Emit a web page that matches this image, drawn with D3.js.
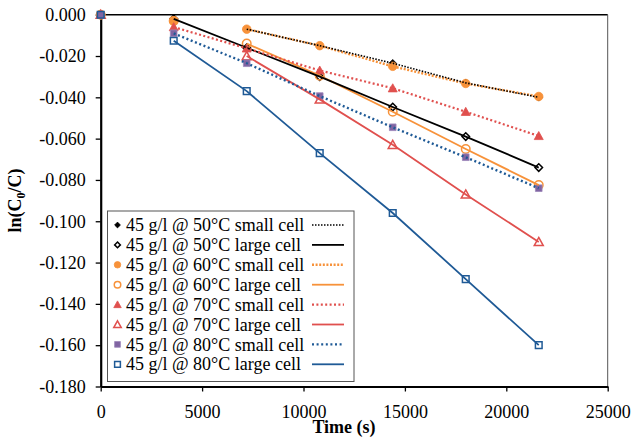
<!DOCTYPE html>
<html>
<head>
<meta charset="utf-8">
<script src="https://cdn.jsdelivr.net/npm/d3@7"></script>
<style>
  html, body { margin: 0; padding: 0; background: #fff; }
  svg { display: block; }
  svg text { font-family: "Times New Roman", "Liberation Serif", "DejaVu Serif", serif !important; fill: #000; }
</style>
</head>
<body>
<svg id="chart" width="631" height="441"></svg>
<script>
// Sampling times (s)
const times = [0, 3600, 7200, 10800, 14400, 18000, 21600];

// ln(C0/C) for each condition (null = no reading)
const small50 = [0, -0.002, -0.007, -0.015, -0.0235, -0.033, -0.040];
const large50 = [0, -0.002, -0.016, -0.030, -0.0447, -0.059, -0.074];
const small60 = [0, -0.003, -0.007, -0.015, -0.025, -0.0333, -0.0396];
const large60 = [0, -0.003, -0.014, -0.0295, -0.047, -0.065, -0.0825];
const small70 = [0, -0.006, -0.0163, -0.027, -0.0356, -0.047, -0.0587];
const large70 = [0, null, -0.020, -0.041, -0.063, -0.087, -0.110];
const small80 = [0, -0.009, -0.0235, -0.0394, -0.0545, -0.069, -0.084];
const large80 = [0, -0.0126, -0.037, -0.067, -0.096, -0.128, -0.160];

const seriesNames = [
  "45 g/l @ 50°C small cell", "45 g/l @ 50°C large cell",
  "45 g/l @ 60°C small cell", "45 g/l @ 60°C large cell",
  "45 g/l @ 70°C small cell", "45 g/l @ 70°C large cell",
  "45 g/l @ 80°C small cell", "45 g/l @ 80°C large cell"
];
const seriesValues = [small50, large50, small60, large60, small70, large70, small80, large80];

// index of the first time point each fitted line runs from
const lineStart = [2, 1, 2, 2, 1, 2, 1, 1];

const xTicks = [0, 5000, 10000, 15000, 20000, 25000];
const yTicks = [0, -0.02, -0.04, -0.06, -0.08, -0.10, -0.12, -0.14, -0.16, -0.18];

const FONT = "'Times New Roman', 'Liberation Serif', 'DejaVu Serif', serif";

// drawing styles per series
const styles = [
  { marker: "diamond", color: "#000000", fill: true,  dash: "1.5,1.5", width: 1.6, lc: "#000000" },
  { marker: "diamond", color: "#000000", fill: false, dash: null,      width: 1.8, lc: "#000000" },
  { marker: "circle",  color: "#F7923A", fill: true,  dash: "2,1.6",   width: 2.4, lc: "#F7923A" },
  { marker: "circle",  color: "#F7923A", fill: false, dash: null,      width: 1.8, lc: "#F7923A" },
  { marker: "triangle",color: "#E0504E", fill: true,  dash: "2,2.4",   width: 2.2, lc: "#E0504E" },
  { marker: "triangle",color: "#E0504E", fill: false, dash: null,      width: 1.8, lc: "#E0504E" },
  { marker: "square",  color: "#8064A2", fill: true,  dash: "2,2.6",   width: 2.4, lc: "#1F5A96" },
  { marker: "square",  color: "#1F5A96", fill: false, dash: null,      width: 1.8, lc: "#1F5A96" }
];

const svg = d3.select("#chart");
const x = d3.scaleLinear().domain([0, 25000]).range([100.7, 607.7]);
const y = d3.scaleLinear().domain([-0.18, 0]).range([386.5, 14.7]);

const fmtY = d3.formatLocale({ decimal: ".", thousands: ",", grouping: [3], currency: ["", ""], minus: "-" }).format(".3f");

// plot frame (top and right)
svg.append("line").attr("x1", x(0)).attr("x2", x(25000)).attr("y1", y(0)).attr("y2", y(0))
  .attr("stroke", "#000").attr("stroke-width", 1.4);
svg.append("line").attr("x1", x(25000)).attr("x2", x(25000)).attr("y1", y(0)).attr("y2", y(-0.18))
  .attr("stroke", "#555").attr("stroke-width", 1);

// axes
const xAxis = d3.axisBottom(x).tickValues(xTicks).tickFormat(d3.format("d")).tickSize(5).tickPadding(14).tickSizeOuter(0);
const yAxis = d3.axisLeft(y).tickValues(yTicks).tickFormat(fmtY).tickSize(5).tickPadding(10).tickSizeOuter(0);

const gx = svg.append("g").attr("transform", `translate(0,${y(-0.18)})`).call(xAxis);
const gy = svg.append("g").attr("transform", `translate(${x(0)},0)`).call(yAxis);
[gx, gy].forEach(g => {
  g.attr("font-family", FONT).attr("font-size", 18);
  g.select(".domain").attr("stroke", "#000").attr("stroke-width", 2.2);
  g.selectAll(".tick line").attr("stroke", "#000").attr("stroke-width", 1.3);
  g.selectAll(".tick text").attr("font-family", FONT).attr("font-size", 18).attr("fill", "#000");
});

// marker shapes
function markerPath(type, s) {
  if (type === "diamond") return d3.symbol(d3.symbolDiamond2, s * s * 0.5)();
  if (type === "circle") return d3.symbol(d3.symbolCircle, Math.PI * (s / 2) * (s / 2))();
  if (type === "triangle") {
    const h = s * 0.9, w = s;
    return `M0,${-h * 0.55}L${w / 2},${h * 0.45}L${-w / 2},${h * 0.45}Z`;
  }
  return d3.symbol(d3.symbolSquare2, s * s)();
}

function drawMarker(g, st, cx, cy, s) {
  g.append("path")
    .attr("d", markerPath(st.marker, s))
    .attr("transform", `translate(${cx},${cy})`)
    .attr("fill", st.fill ? st.color : "none")
    .attr("stroke", st.fill ? (st.marker === "square" ? "#9C86BA" : st.color) : st.color)
    .attr("stroke-width", st.fill ? 0.8 : 1.5);
}

// markers (drawn in series order)
const markerLayer = svg.append("g");
seriesValues.forEach((vals, i) => {
  const st = styles[i];
  const size = { diamond: 8.5, circle: 8.5, triangle: 9, square: 7.5 }[st.marker];
  times.forEach((t, j) => {
    if (vals[j] == null) return;
    drawMarker(markerLayer, st, x(t), y(vals[j]), size);
  });
});

// connecting lines
const lineGen = d3.line().x(d => x(d[0])).y(d => y(d[1]));
const lineOrder = [2, 0, 3, 1, 4, 5, 6, 7];
lineOrder.forEach(i => {
  const st = styles[i];
  const pts = times.map((t, j) => [t, seriesValues[i][j]])
    .filter((p, j) => j >= lineStart[i] && p[1] != null);
  svg.append("path")
    .attr("d", lineGen(pts))
    .attr("fill", "none")
    .attr("stroke", st.lc)
    .attr("stroke-width", st.width)
    .attr("stroke-dasharray", st.dash);
});

// legend
const lg = svg.append("g").attr("font-family", FONT);
lg.append("rect").attr("x", 107.5).attr("y", 211).attr("width", 246.5).attr("height", 170.5)
  .attr("fill", "#fff").attr("stroke", "#555").attr("stroke-width", 1);
seriesNames.forEach((name, i) => {
  const st = styles[i];
  const cy = 225 + i * 19.9;
  drawMarker(lg, st, 117.5, cy, st.marker === "triangle" ? 7.5 : 6.5);
  lg.append("text").attr("x", 126).attr("y", cy).attr("dy", "0.34em")
    .attr("font-family", FONT).attr("font-size", 18).text(name);
  lg.append("line").attr("x1", 312).attr("x2", 344).attr("y1", cy).attr("y2", cy)
    .attr("stroke", st.lc).attr("stroke-width", st.width)
    .attr("stroke-dasharray", st.dash);
});

// axis titles
svg.append("text").attr("x", 344).attr("y", 433).attr("text-anchor", "middle")
  .attr("font-family", FONT).attr("font-size", 18).attr("font-weight", "bold").text("Time (s)");

const yt = svg.append("text").attr("transform", `translate(21,${(y(0) + y(-0.18)) / 2}) rotate(-90)`)
  .attr("text-anchor", "middle").attr("font-family", FONT).attr("font-size", 18).attr("font-weight", "bold");
yt.append("tspan").text("ln(C");
yt.append("tspan").attr("font-size", 12).attr("dy", 4).text("0");
yt.append("tspan").attr("dy", -4).text("/C)");
</script>
</body>
</html>
